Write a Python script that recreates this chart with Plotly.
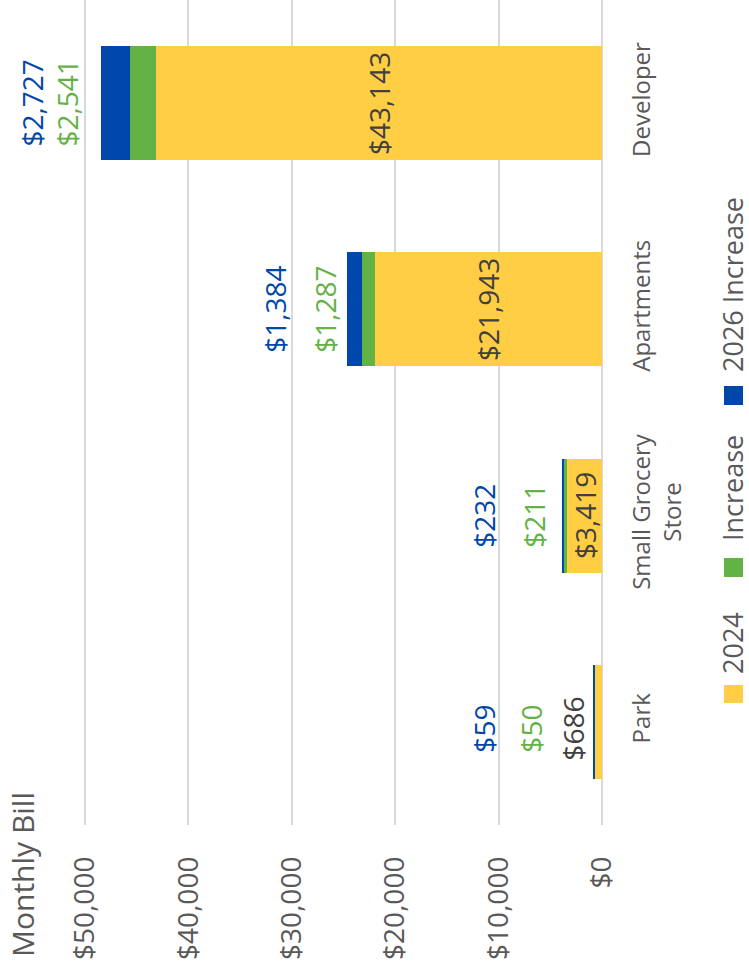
import plotly.graph_objects as go

categories = ["Park", "Small Grocery<br>Store", "Apartments", "Developer"]
bill_2024 = [686, 3419, 21943, 43143]
increase = [50, 211, 1287, 2541]
increase_2026 = [59, 232, 1384, 2727]
series_names = ["2024", "Increase", "2026 Increase"]
x_ticks = [0, 10000, 20000, 30000, 40000, 50000]
x_tick_labels = ["$0", "$10,000", "$20,000", "$30,000", "$40,000", "$50,000"]

# styling
colors = ["#FFCE44", "#63B246", "#0047AB"]
label_colors = ["#404040", "#63B246", "#0047AB"]
grey = "#595959"
FONT = "Open Sans"

# plot area in pixels (for paper conversions)
L, R, T, B = 84, 603, 0, 825
W, H = 749, 973
PAD = 100  # small range padding so edge gridlines are drawn


def px_x(p):
    return (p - L) / (R - L)


def px_y(p):
    return (B - p) / (B - T)


fig = go.Figure()
for vals, name, col in zip([bill_2024, increase, increase_2026], series_names, colors):
    fig.add_trace(go.Bar(
        x=vals, y=categories, orientation="h", name=name,
        marker=dict(color=col, line=dict(width=0)), width=0.553,
        showlegend=False, hoverinfo="x+name",
    ))

# label placement styles: inside (center of segment) or pixel shift from bar end
inside_2024 = [False, True, True, True]
shift_2024 = [-21, 0, 0, 0]
shift_green = [-63, -28, -22, -34]
shift_blue = [-110, -78, -72, -69]
label_yshift = [-7, 0, 0, 0]

annotations = []
for i, cat in enumerate(categories):
    total = bill_2024[i] + increase[i] + increase_2026[i]
    if inside_2024[i]:
        ax, sh = bill_2024[i] / 2, 0
    else:
        ax, sh = total, shift_2024[i]
    annotations.append(dict(x=ax, y=cat, xref="x", yref="y", text=f"${bill_2024[i]:,}",
                            textangle=-90, showarrow=False, xshift=sh, yshift=label_yshift[i],
                            xanchor="center", yanchor="middle",
                            font=dict(family=FONT, size=28, color=label_colors[0])))
    annotations.append(dict(x=total, y=cat, xref="x", yref="y", text=f"${increase[i]:,}",
                            textangle=-90, showarrow=False, xshift=shift_green[i],
                            yshift=label_yshift[i], xanchor="center", yanchor="middle",
                            font=dict(family=FONT, size=28, color=label_colors[1])))
    annotations.append(dict(x=total, y=cat, xref="x", yref="y", text=f"${increase_2026[i]:,}",
                            textangle=-90, showarrow=False, xshift=shift_blue[i],
                            yshift=label_yshift[i], xanchor="center", yanchor="middle",
                            font=dict(family=FONT, size=28, color=label_colors[2])))

# axis title
annotations.append(dict(x=px_x(22), y=px_y(875), xref="paper", yref="paper", text="Monthly Bill",
                        textangle=-90, showarrow=False, xanchor="center", yanchor="middle",
                        font=dict(family=FONT, size=30, color=grey)))

# legend (rotated, drawn manually)
legend_text_centers = [643, 488, 285]
legend_squares = [(685, 703), (558, 577), (386, 405)]
shapes = []
for name, col, yc, (y0, y1) in zip(series_names, colors, legend_text_centers, legend_squares):
    annotations.append(dict(x=px_x(732), y=px_y(yc), xref="paper", yref="paper", text=name,
                            textangle=-90, showarrow=False, xanchor="center", yanchor="middle",
                            font=dict(family=FONT, size=27, color=grey)))
    shapes.append(dict(type="rect", xref="paper", yref="paper",
                       x0=px_x(724), x1=px_x(743), y0=px_y(y1), y1=px_y(y0),
                       fillcolor=col, line=dict(width=0)))

fig.update_layout(
    width=W, height=H,
    margin=dict(l=L, r=W - R, t=T, b=H - B, autoexpand=False),
    barmode="stack",
    plot_bgcolor="white", paper_bgcolor="white",
    font=dict(family=FONT, color=grey),
    annotations=annotations,
    shapes=shapes,
    xaxis=dict(
        range=[50000 + PAD, -PAD], tickvals=x_ticks, ticktext=x_tick_labels,
        tickangle=-90, showgrid=True, gridcolor="#D9D9D9", gridwidth=1.5,
        zeroline=False, showline=False, ticks="", ticklabelstandoff=25,
        automargin=False,
        tickfont=dict(family=FONT, size=28, color=grey), fixedrange=True,
    ),
    yaxis=dict(
        categoryorder="array", categoryarray=categories, side="right",
        tickangle=-90, showgrid=False, zeroline=False, showline=False, ticks="",
        ticklabelstandoff=22, automargin=False,
        tickfont=dict(family=FONT, size=24, color=grey), fixedrange=True,
    ),
)

fig.write_html(
    "out.html",
    config={"displayModeBar": False},
    post_script="document.body.style.margin='0';document.body.style.padding='0';",
)
